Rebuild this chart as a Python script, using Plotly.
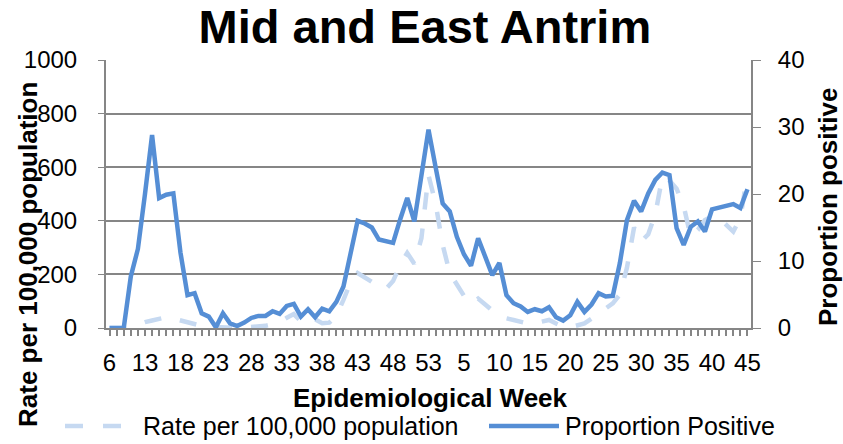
"""
Mid and East Antrim — rate per 100,000 vs proportion positive by epidemiological week.
"""
import plotly.graph_objects as go

# ─── DATA ───
weeks = [6, 9, 10, 11, 12, 13, 14, 15, 16, 17, 18, 19, 20, 21, 22, 23, 24, 25, 26, 27,
         28, 29, 30, 31, 32, 33, 34, 35, 36, 37, 38, 39, 40, 41, 42, 43, 44, 45, 46, 47,
         48, 49, 50, 51, 52, 53, 1, 2, 3, 4, 5, 6, 7, 8, 9, 10, 11, 12, 13, 14,
         15, 16, 17, 18, 19, 20, 21, 22, 23, 24, 25, 26, 27, 28, 29, 30, 31, 32, 33, 34,
         35, 36, 37, 38, 39, 40, 41, 42, 43, 44, 45]

rate_per_100k = [0, 0, 0, 5, 15, 22, 28, 36, 40, 35, 28, 22, 15, 8, 5, 3, 5, 3, 0, 2,
                 3, 5, 8, 14, 22, 38, 52, 25, 42, 32, 18, 20, 45, 105, 170, 205, 188, 172, 150, 146,
                 175, 235, 280, 240, 335, 570, 465, 310, 205, 165, 120, 90, 110, 88, 65, 50, 36, 30, 22, 17,
                 18, 24, 30, 17, 5, 3, 8, 17, 35, 55, 70, 92, 125, 225, 375, 322, 350, 425, 565, 550,
                 520, 455, 340, 366, 403, 415, 410, 385, 360, 410, 575]

proportion_positive = [0, 0, 0, 7.7, 11.8, 20.0, 28.8, 19.4, 19.9, 20.1, 11.3, 4.9, 5.2, 2.2, 1.7, 0.1, 2.2, 0.7, 0.3, 0.8,
                       1.5, 1.8, 1.8, 2.5, 2.1, 3.3, 3.6, 1.7, 2.8, 1.6, 2.9, 2.5, 3.9, 6.2, 10.8, 16.0, 15.6, 15.0, 13.2, 12.9,
                       12.7, 16.2, 19.4, 15.9, 22.9, 29.6, 24.0, 18.6, 17.4, 13.6, 11.0, 9.3, 13.4, 10.6, 7.9, 9.7, 4.9, 3.7, 3.2, 2.4,
                       2.8, 2.5, 3.1, 1.6, 1.1, 1.9, 3.9, 2.4, 3.5, 5.2, 4.7, 4.8, 9.7, 16.1, 19.0, 17.4, 20.1, 22.1, 23.2, 22.8,
                       14.9, 12.4, 15.1, 15.9, 14.4, 17.7, 18.0, 18.3, 18.5, 17.9, 20.7]

# ─── THEME ───
_FONT = "Liberation Sans, Arial, sans-serif"
_GRID = "#868686"
_RATE = "#c6d9f1"
_PROP = "#558ed5"
_DASH = "17px,19px"

# plot area in pixels (for placing the hand-built legend / titles)
_L, _R, _T, _B = 106, 751, 60, 328


def _px(x, y):
    return (x - _L) / (_R - _L), (_B - y) / (_B - _T)


idx = list(range(len(weeks)))
# a tick on every point, but only every fifth one shows its week number
week_text = [str(w) if i % 5 == 0 else "" for i, w in zip(idx, weeks)]

fig = go.Figure()
fig.add_trace(go.Scatter(
    x=idx, y=rate_per_100k, mode="lines", name="Rate per 100,000 population",
    line=dict(color=_RATE, width=4.5, dash=_DASH), yaxis="y", showlegend=False
))
fig.add_trace(go.Scatter(
    x=idx, y=proportion_positive, mode="lines", name="Proportion Positive",
    line=dict(color=_PROP, width=4.5), yaxis="y2", showlegend=False
))

fig.update_layout(
    width=843, height=444,
    paper_bgcolor="white", plot_bgcolor="white",
    font=dict(family=_FONT, color="black", size=24),
    margin=dict(l=_L, r=843 - _R, t=_T, b=444 - _B),
    title=dict(text="Mid and East Antrim", x=0.504, xanchor="center", y=1 - 27 / 444, yanchor="middle",
               font=dict(family=_FONT, size=47, weight="bold", color="black")),
    xaxis=dict(
        range=[-0.5, len(weeks) - 0.5], tickmode="array", tickvals=idx, ticktext=week_text,
        ticks="outside", ticklen=6, tickcolor=_GRID, tickwidth=1.5, ticklabelstandoff=6,
        showgrid=False, zeroline=False, showline=True, linecolor=_GRID, linewidth=2,
    ),
    yaxis=dict(
        range=[0, 1000], dtick=200, showgrid=True, gridcolor=_GRID, gridwidth=1.5,
        zeroline=False, showline=True, linecolor=_GRID, linewidth=2,
        ticks="outside", ticklen=6, tickcolor=_GRID, ticklabelstandoff=16,
    ),
    yaxis2=dict(
        range=[0, 40], dtick=10, overlaying="y", side="right", showgrid=False,
        zeroline=False, showline=True, linecolor=_GRID, linewidth=2,
        ticks="outside", ticklen=8, tickcolor=_GRID, ticklabelstandoff=12,
    ),
)


def _note(text, x, y, size, angle=0, anchor="center"):
    px, py = _px(x, y)
    fig.add_annotation(text=text, xref="paper", yref="paper", x=px, y=py,
                       xanchor=anchor, yanchor="middle", textangle=angle,
                       showarrow=False, font=dict(size=size))


# axis titles
_note("<b>Rate per 100,000 population</b>", 28, 255, 26, angle=-90)
_note("<b>Proportion positive</b>", 828, 207, 26, angle=-90)
_note("<b>Epidemiological Week</b>", 430, 398, 26)

# legend (drawn by hand to get Excel-style long symbols)
x0, ly = _px(65, 426)
x1, _ = _px(127, 426)
fig.add_shape(type="line", xref="paper", yref="paper", x0=x0, x1=x1, y0=ly, y1=ly,
              line=dict(color=_RATE, width=4.5, dash="18px,20px"))
_note("Rate per 100,000 population", 141, 426, 25, anchor="left")
x0, _ = _px(489, 426)
x1, _ = _px(559, 426)
fig.add_shape(type="line", xref="paper", yref="paper", x0=x0, x1=x1, y0=ly, y1=ly,
              line=dict(color=_PROP, width=4.5))
_note("Proportion Positive", 563, 426, 25, anchor="left")

# drop the browser's default body margin so the figure sits at the page origin
fig.write_html("out.html", config={"displayModeBar": False},
               post_script="document.body.style.margin='0';")
